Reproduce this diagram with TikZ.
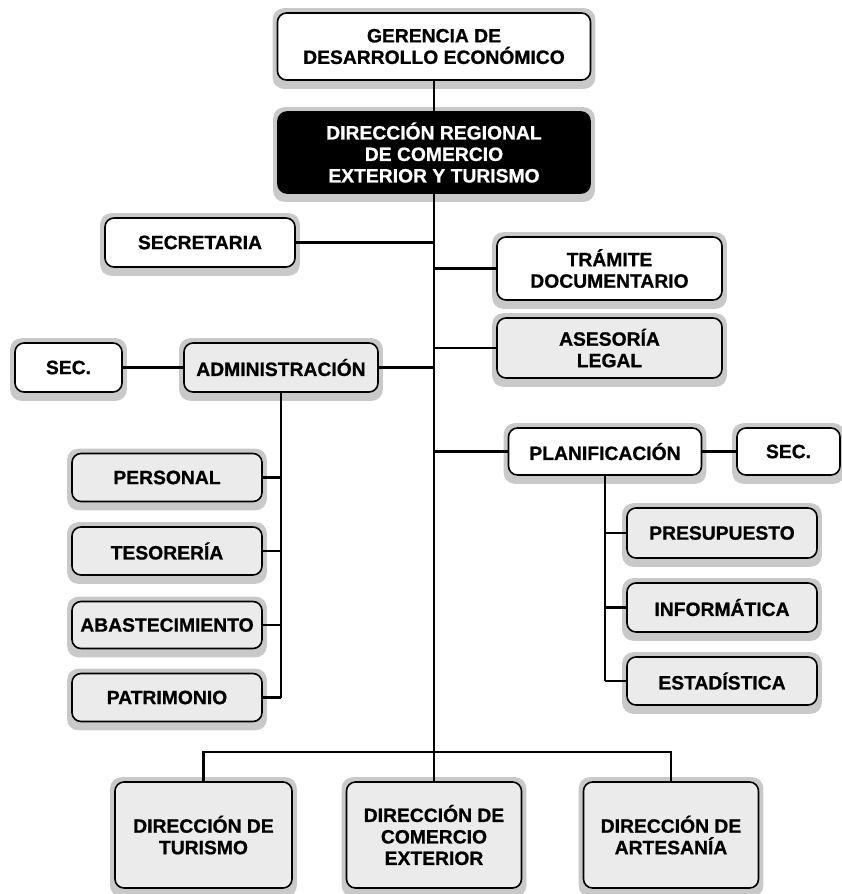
\documentclass[tikz,border=0pt]{standalone}
\usepackage{fontspec}
\setmainfont{Liberation Sans}[BoldFeatures={FakeBold=0.8}]
\usetikzlibrary{backgrounds,calc}
\begin{document}
\begin{tikzpicture}[x=1pt,y=-1pt,
  box/.style={draw=black, line width=1.6pt, rounded corners=9pt, fill=white, align=center, inner sep=0pt,
    font=\fontsize{19.3}{21.5}\selectfont\bfseries},
  greybox/.style={box, fill=gray!16},
  darkbox/.style={box, fill=black, text=white},
  conn/.style={line width=2.2pt},
  trunk/.style={line width=2.8pt},
  halo/.style={fill=gray!42, rounded corners=11pt}
]
\useasboundingbox (0,0) rectangle (841,894);

% top
\node[box, minimum width=313pt, minimum height=67pt] (g) at (434,46.5) {GERENCIA DE\\DESARROLLO ECONÓMICO};
\node[darkbox, minimum width=312pt, minimum height=81pt] (d) at (434,152.5) {DIRECCIÓN REGIONAL\\DE COMERCIO\\EXTERIOR Y TURISMO};

% staff units
\node[box, minimum width=190pt, minimum height=49pt] (secr) at (200,242.5) {SECRETARIA};
\node[box, minimum width=225pt, minimum height=63pt] (tram) at (609.5,268.5) {TRÁMITE\\DOCUMENTARIO};
\node[greybox, minimum width=225pt, minimum height=60pt] (ases) at (609.5,348) {ASESORÍA\\LEGAL};

% administracion branch
\node[box, minimum width=107pt, minimum height=49pt] (secl) at (68.5,367.5) {SEC.};
\node[greybox, minimum width=194pt, minimum height=49pt] (adm) at (281,367.5) {ADMINISTRACIÓN};
\node[greybox, minimum width=190pt, minimum height=48pt] (pers) at (167,477.5) {PERSONAL};
\node[greybox, minimum width=190pt, minimum height=48pt] (teso) at (167,551) {TESORERÍA};
\node[greybox, minimum width=190pt, minimum height=47pt] (abas) at (167,625) {ABASTECIMIENTO};
\node[greybox, minimum width=190pt, minimum height=48pt] (patr) at (167,697.5) {PATRIMONIO};

% planificacion branch
\node[box, minimum width=193pt, minimum height=47pt] (plan) at (605,451.5) {PLANIFICACIÓN};
\node[box, minimum width=103pt, minimum height=47pt] (secr2) at (788.5,451.5) {SEC.};
\node[greybox, minimum width=190pt, minimum height=50pt] (pres) at (722,533) {PRESUPUESTO};
\node[greybox, minimum width=190pt, minimum height=49pt] (info) at (722,607.5) {INFORMÁTICA};
\node[greybox, minimum width=190pt, minimum height=48pt] (esta) at (722,681) {ESTADÍSTICA};

% bottom directions
\node[greybox, minimum width=177pt, minimum height=106pt] (tur) at (203.5,835) {DIRECCIÓN DE\\TURISMO};
\node[greybox, minimum width=175pt, minimum height=106pt] (com) at (434,835) {DIRECCIÓN DE\\COMERCIO\\EXTERIOR};
\node[greybox, minimum width=175pt, minimum height=106pt] (art) at (671,835) {DIRECCIÓN DE\\ARTESANÍA};

\coordinate (jb) at (434,752);

% halos
\begin{scope}[on background layer]
\foreach \n in {g,d,secr,tram,ases,secl,adm,pers,teso,abas,patr,plan,secr2,pres,info,esta,tur,com,art}
  \fill[halo] ($(\n.north west)+(-4,-4)$) rectangle ($(\n.south east)+(4,8)$);
\end{scope}

% connectors
\draw[trunk] (g.south) -- (d.north);
\draw[trunk] (d.south) -- (jb);
\draw[trunk] (jb) -- (com.north);
\draw[conn] (secr.east) -- (secr.east -| jb);
\draw[conn] (tram.west) -- (tram.west -| jb);
\draw[conn] (ases.west) -- (ases.west -| jb);
\draw[conn] (adm.east) -- (adm.east -| jb);
\draw[conn] (plan.west) -- (plan.west -| jb);
\draw[conn] (secl.east) -- (adm.west);
\draw[conn] (plan.east) -- (secr2.west);
\draw[conn] (adm.south) -- (adm.south |- patr.east);
\foreach \n in {pers,teso,abas,patr} \draw[conn] (\n.east) -- (\n.east -| adm.south);
\draw[conn] (plan.south) -- (plan.south |- esta.west);
\foreach \n in {pres,info,esta} \draw[conn] (\n.west) -- (\n.west -| plan.south);
\draw[trunk] (tur.north) -- (tur.north |- jb) -- (art.north |- jb) -- (art.north);
\end{tikzpicture}
\end{document}
